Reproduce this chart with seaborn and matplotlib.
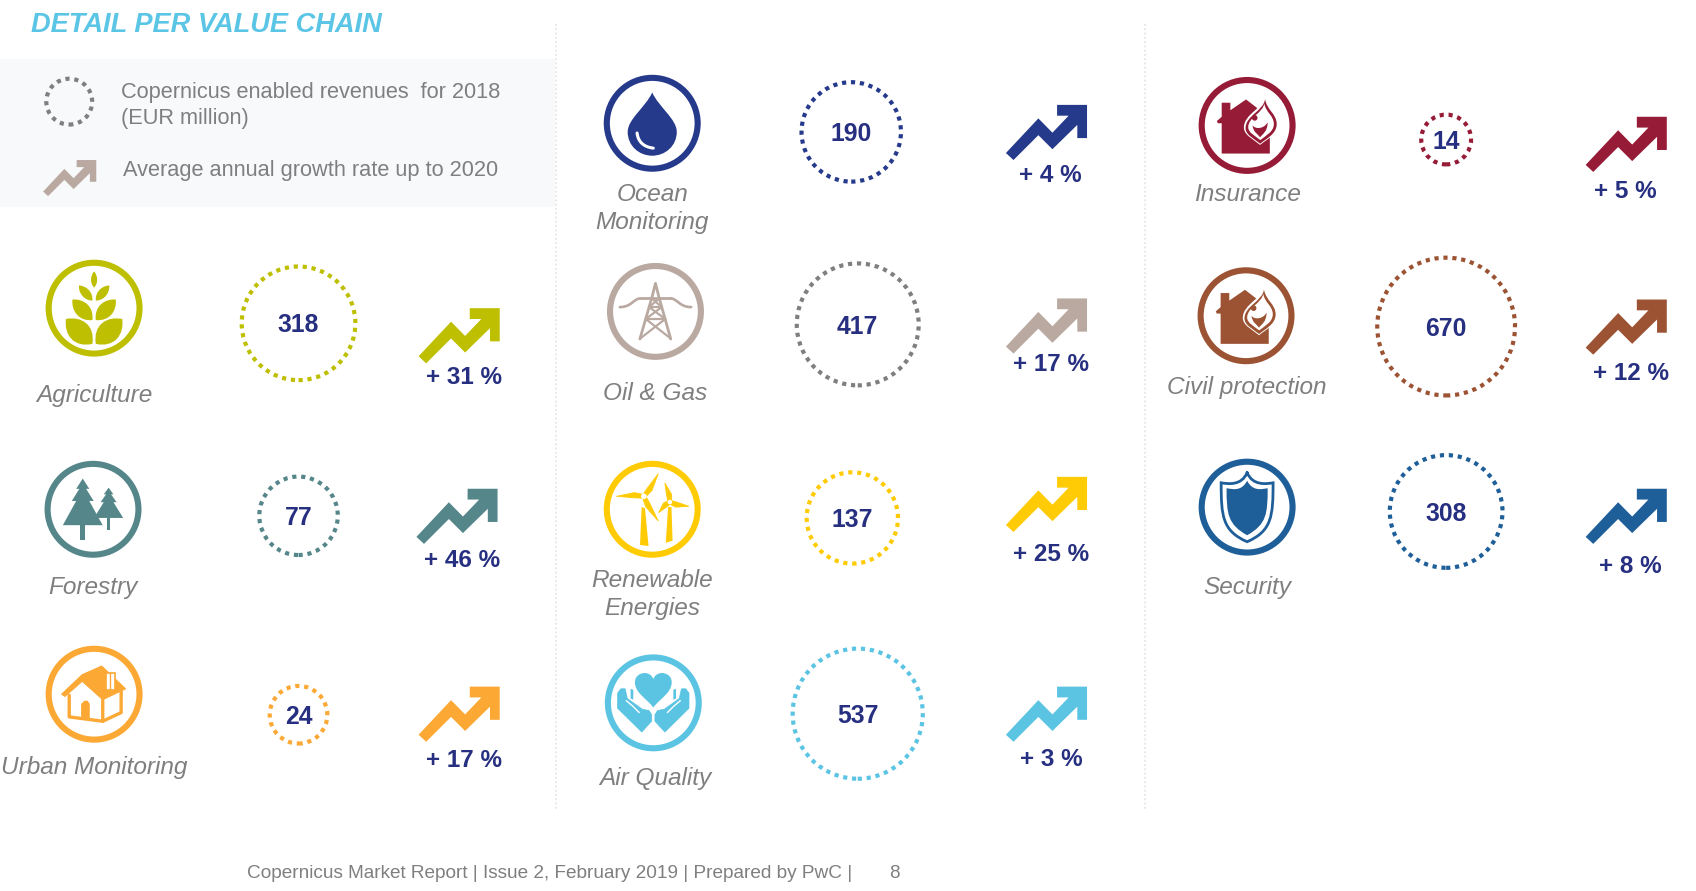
import matplotlib
matplotlib.use("Agg")
import matplotlib.pyplot as plt
import numpy as np
import pandas as pd
import seaborn as sns
from matplotlib.patches import Circle, PathPatch, Polygon, Rectangle
from matplotlib.path import Path

# the chart values
chains = ["Agriculture", "Forestry", "Urban Monitoring", "Ocean Monitoring", "Oil & Gas",
          "Renewable Energies", "Air Quality", "Insurance", "Civil protection", "Security"]
revenues = [318, 77, 24, 190, 417, 137, 537, 14, 670, 308]
growth = [31, 46, 17, 4, 17, 25, 3, 5, 12, 8]
label_lines = ["Agriculture", "Forestry", "Urban Monitoring", "Ocean\nMonitoring", "Oil & Gas",
               "Renewable\nEnergies", "Air Quality", "Insurance", "Civil protection", "Security"]

# colours
main_colors = ["#BDBF00", "#55868A", "#FBA834", "#263A8C", "#B9A9A1",
               "#FFCB05", "#5BC4E2", "#951B36", "#9C5333", "#1F5F99"]
ring_colors = ["#BDBF00", "#55868A", "#FBA834", "#263A8C", "#7F7F7F",
               "#FFCB05", "#5BC4E2", "#951B36", "#9C5333", "#1F5F99"]
navy = "#262F80"
grey = "#7F7F7F"

# layout, in units of the 1568x824 page
icon_x = [87, 86, 87, 603, 606, 603, 604, 1153, 1152, 1153]
icon_y = [285, 471, 642, 114, 288, 471, 650, 116, 292, 469]
name_x = [87, 86, 87, 603, 606, 603, 606, 1153, 1153, 1153]
name_y = [366, 543, 710, 193, 364, 550, 720, 180, 358, 543]
ring_x = [276, 276, 276, 787, 793, 788, 793, 1337, 1337, 1337]
ring_y = [299, 477, 661, 122, 300, 479, 660, 129, 302, 473]
value_y = [301, 479, 663, 124, 302, 481, 662, 131, 304, 475]
arrow_x = [462, 460, 462, 1005, 1005, 1005, 1005, 1541, 1541, 1541]
arrow_y = [285, 452, 635, 97, 276, 441, 635, 108, 277, 452]
pct_x = [429, 427, 429, 971, 972, 972, 972, 1503, 1508, 1507]
pct_y = [349, 518, 703, 162, 337, 513, 702, 177, 345, 524]

# the zigzag arrow, measured from its top right corner
ARROW = [(-75, 44.5), (-45, 12.5), (-32, 25.7), (-17, 10), (-27.7, 10), (-27.7, 0), (0, 0),
         (0, 30.7), (-9, 30.7), (-9, 18.5), (-32, 41), (-45, 28), (-68, 51)]

M, L, C, Z = Path.MOVETO, Path.LINETO, Path.CURVE4, Path.CLOSEPOLY


def ring_size(value):
    # ring diameter in the report grows with the fourth root of the value
    return (27.9 * value ** 0.25 * 0.72 - 3.0) ** 2


def draw_arrow(ax, x, y, color, scale=1.0):
    pts = [(x + scale * a, y + scale * b) for a, b in ARROW]
    ax.add_patch(Polygon(pts, closed=True, fc=color, ec="none"))


def blob(ax, cx, cy, pts, color, mirror=False, lw=0, ec="none"):
    pts = np.asarray(pts, dtype=float)
    ax.add_patch(Polygon(np.c_[cx + (-pts[:, 0] if mirror else pts[:, 0]), cy + pts[:, 1]],
                         closed=True, fc=color, ec=ec, lw=lw, joinstyle="round"))


def bez(ax, cx, cy, verts, codes, color, lw=0, ec="none", fill=True):
    v = np.asarray(verts, dtype=float) + [cx, cy]
    ax.add_patch(PathPatch(Path(v, codes), fc=color if fill else "none", ec=ec, lw=lw, capstyle="round"))


def leaf(ax, cx, cy, base, tip, w, color):
    bx, by = base
    tx, ty = tip
    dx, dy = tx - bx, ty - by
    nx, ny = -dy * w, dx * w
    verts = [base, (bx + .3 * dx + nx, by + .3 * dy + ny), (bx + .75 * dx + nx * .8, by + .75 * dy + ny * .8), tip,
             (bx + .75 * dx - nx * .8, by + .75 * dy - ny * .8), (bx + .3 * dx - nx, by + .3 * dy - ny), base]
    bez(ax, cx, cy, verts, [M, C, C, C, C, C, C], color)


def line(ax, cx, cy, pts, color, lw=2.0):
    pts = np.asarray(pts, dtype=float)
    ax.plot(cx + pts[:, 0], cy + pts[:, 1], color=color, lw=lw, solid_capstyle="round", solid_joinstyle="round")


def icon_agriculture(ax, x, y, c):
    leaf(ax, x, y, (0, -19), (0, -34), .28, c)
    for s in (-1, 1):
        leaf(ax, x, y, (s * 1.6, -7), (s * 14, -21), .32, c)
        leaf(ax, x, y, (s * 1.6, 11), (s * 20, -8), .38, c)
        leaf(ax, x, y, (s * 1.6, 33), (s * 26, 10), .44, c)


def icon_drop(ax, x, y, c):
    verts = [(0, -28.5), (-6, -15), (-22.7, -4), (-22.7, 8), (-22.7, 21), (-12, 30), (0, 30),
             (12, 30), (22.7, 21), (22.7, 8), (22.7, -4), (6, -15), (0, -28.5)]
    bez(ax, x, y, verts, [M] + [C] * 12, c)
    bez(ax, x, y, [(-14, 9), (-13, 18), (-7, 22), (1, 23)], [M, C, C, C], "none", lw=2.2, ec="white", fill=False)


def icon_pylon(ax, x, y, c):
    line(ax, x, y, [(-14.4, 25.5), (-3, -14), (0, -26), (3, -14), (14.1, 25.5)], c)
    line(ax, x, y, [(-14, -12), (14, -12)], c)
    for a, b in [((-5.8, -4), (5.8, -4)), ((-9, 7), (9, 7)), ((-3.5, -12), (5.8, -4)), ((3.5, -12), (-5.8, -4)),
                 ((-5.8, -4), (9, 7)), ((5.8, -4), (-9, 7)), ((-9, 7), (14, 25)), ((9, 7), (-14, 25))]:
        line(ax, x, y, [a, b], c, lw=1.6)
    for s in (-1, 1):
        bez(ax, x, y, [(s * 14, -12), (s * 20, -12), (s * 22, -4), (s * 33, -4)], [M, C, C, C],
            "none", lw=1.9, ec=c, fill=False)


def blade(ax, x, y, hub, tip, c):
    hub, tip = np.array(hub), np.array(tip)
    d = tip - hub
    n = np.array([-d[1], d[0]]) / np.hypot(*d) * 3.4
    blob(ax, x, y, [hub + n * .5, hub + .35 * d + n, tip, hub + .35 * d - n * .4, hub - n * .5], c, lw=.6, ec=c)


def icon_turbines(ax, x, y, c):
    for hub, tips, r in [((-7.7, -12), [(5.5, -32.8), (-33, -12), (5.5, 10.7)], 2.6),
                         ((16.3, -6.7), [(11.7, -24.2), (33.8, -2.8), (6, 3)], 2.1)]:
        for t in tips:
            blade(ax, x, y, hub, t, c)
        ax.add_patch(Circle((x + hub[0], y + hub[1]), r, fc="white", ec="none"))
    blob(ax, x, y, [(-9.8, -2.1), (-6.7, -1), (-3.4, 34), (-11.3, 33)], c)
    blob(ax, x, y, [(14.7, -2.1), (17.8, -2.1), (18.8, 29), (12.5, 31)], c)


def icon_hands(ax, x, y, c):
    verts = [(0, 4.3), (-6, -4), (-17, -9), (-17, -19), (-17, -25), (-12, -27.6), (-8, -27.6),
             (-4, -27.6), (-1, -25), (0, -22), (1, -25), (4, -27.6), (8, -27.6),
             (12, -27.6), (17, -25), (17, -19), (17, -9), (6, -4), (0, 4.3)]
    bez(ax, x, y, verts, [M] + [C] * 18, c)
    for mirror in (False, True):
        blob(ax, x, y, [(-33, -9), (-30, -13), (-26, -13), (-24, -4), (-17, 1), (-10, 6), (-4, 7), (-1.5, 11),
                        (-1.5, 17), (-10.7, 27), (-33, 5)], c, mirror=mirror, lw=.5, ec=c)
        blob(ax, x, y, [(-21, -13), (-18.5, -12), (-18.5, -3), (-21, -4)], c, mirror=mirror)
        s = 1 if mirror else -1
        line(ax, x, y, [(s * 25, -2), (s * 19, 3), (s * 13, 9)], "white", lw=1.0)


def icon_trees(ax, x, y, c):
    for tx, top, base, hw, trunk, tw in [(-9.5, -28.4, 14.7, 18.4, 28, 2.4), (14.4, -20, 8, 13.5, 18.7, 1.7)]:
        h = base - top
        pts = [(0, 0), (.33, .22), (.17, .22), (.55, .48), (.33, .48), (1, 1)]
        right = [(tx + hw * a, top + h * b) for a, b in pts]
        left = [(tx - hw * a, top + h * b) for a, b in pts[::-1]]
        blob(ax, x, y, right + left, c)
        blob(ax, x, y, [(tx - tw, base), (tx + tw, base), (tx + tw, trunk), (tx - tw, trunk)], c)


def icon_house(ax, x, y, c):
    blob(ax, x, y, [(-30, 0), (-11, -18), (7, -26), (29, -5), (8, 5), (-11, -12), (-27, 2)], c, lw=.8, ec=c)
    line(ax, x, y, [(-23, 1), (-23, 21), (8, 25), (8, 5)], c, lw=2.4)
    line(ax, x, y, [(8, 25), (25, 17), (25, -3)], c, lw=2.4)
    blob(ax, x, y, [(-12, 23), (-12, 9), (-9, 6), (-6, 6), (-4, 9), (-4, 23)], c)
    ax.add_patch(Rectangle((x + 11, y - 20), 8, 16, fc="white", ec=c, lw=1.2))
    line(ax, x, y, [(15, -20), (15, -4)], c, lw=1.0)


def icon_flame_house(ax, x, y, c):
    blob(ax, x, y, [(-28, -4), (-23.5, -8), (-23.5, -21), (-15.5, -21), (-15.5, -14), (-1, -24), (12, -14), (21, 8),
                    (21, 26), (-23.5, 26), (-23.5, -2), (-27, -2)], c)
    flame = np.array([(17, -27), (16, -15), (-3, -10), (-3, 3), (-3, 10), (6, 14), (12, 19),
                      (18, 14), (29, 9), (29, -1), (29, -12), (19, -15), (17, -27)], dtype=float)
    mid = np.array([12.5, -2.0])
    codes = [M] + [C] * 12
    bez(ax, x, y, flame + [0, -1], codes, "white")
    bez(ax, x, y, mid + (flame - mid) * .9, codes, c)
    bez(ax, x, y, mid + (flame - mid) * .74, codes, "white")
    bez(ax, x, y, [(5, 0), (6, 7), (10, 8), (12, 11), (14, 8), (19, 6), (19, -3), (16, 3), (8, 4), (5, 0)],
        [M] + [C] * 9, c)
    ax.add_patch(Circle((x + 7, y - 7), 2.6, fc=c, ec="none"))


def icon_shield(ax, x, y, c):
    def shield(top, cx, cy, bottom, mid):
        return [(0, top), (-5, cy + 3), (-cx + 6, cy + 1), (-cx, cy), (-cx, mid), (-cx + 1, bottom - 10), (0, bottom),
                (cx - 1, bottom - 10), (cx, mid), (cx, cy), (cx - 6, cy + 1), (5, cy + 3), (0, top)]
    codes = [M] + [C] * 12
    bez(ax, x, y, shield(-32, 24, -22.5, 32, 8), codes, "none", lw=2.0, ec=c, fill=False)
    bez(ax, x, y, shield(-24.5, 19, -17.5, 26, 6), codes, c)


ICONS = [icon_agriculture, icon_trees, icon_house, icon_drop, icon_pylon,
         icon_turbines, icon_hands, icon_flame_house, icon_flame_house, icon_shield]

sns.set_theme(style="white")
plt.rcParams["font.family"] = ["Liberation Sans", "DejaVu Sans"]

fig = plt.figure(figsize=(16.96, 8.91), dpi=100)
ax = fig.add_axes([0, 0, 1, 1])
ax.set_xlim(0, 1568)
ax.set_ylim(824, 0)
ax.axis("off")

# page furniture
ax.add_patch(Rectangle((0, 55), 513, 136, fc="#F8F9FB", ec="none", zorder=0))
for x in [514, 1059]:
    ax.plot([x, x], [22, 750], color="#E9E9E9", lw=1.4, ls=(0, (1, 1.2)), zorder=0)

ax.text(29, 23, "DETAIL PER VALUE CHAIN", color="#5BC5E5", fontsize=19.6, fontweight="bold",
        fontstyle="italic", va="center", ha="left")
ax.text(112, 86, "Copernicus enabled revenues  for 2018", color=grey, fontsize=15.65, va="center")
ax.text(112, 110, "(EUR million)", color=grey, fontsize=15.65, va="center")
ax.text(114, 158, "Average annual growth rate up to 2020", color=grey, fontsize=15.65, va="center")
draw_arrow(ax, 89, 148, "#B9A9A1", scale=0.655)

# revenue rings are one seaborn scatter, sized and coloured by chain
df = pd.DataFrame({"chain": chains, "revenue": revenues, "x": ring_x, "y": ring_y})
sns.scatterplot(data=df, x="x", y="y", hue="chain", palette=dict(zip(chains, ring_colors)),
                size="revenue", sizes={v: ring_size(v) for v in revenues}, marker="o",
                linewidth=3.0, legend=False, ax=ax)
rings = ax.collections[-1]
rings.set_edgecolors(rings.get_facecolors())
rings.set_facecolors("none")
rings.set_linestyle((0, (1, 1.15)))

# legend ring
sns.scatterplot(x=[64], y=[94], s=(50 * 0.72 - 3.0) ** 2, marker="o", linewidth=3.0, color=grey, legend=False, ax=ax)
key = ax.collections[-1]
key.set_edgecolors(key.get_facecolors())
key.set_facecolors("none")
key.set_linestyle((0, (1, 1.15)))
ax.set_xlabel("")
ax.set_ylabel("")
ax.set_xlim(0, 1568)
ax.set_ylim(824, 0)

for i, chain in enumerate(chains):
    c = main_colors[i]
    ax.add_patch(Circle((icon_x[i], icon_y[i]), 42, fc="white", ec=c, lw=4.4))
    ICONS[i](ax, icon_x[i], icon_y[i], c)
    ax.text(name_x[i], name_y[i], label_lines[i], color=grey, fontsize=17.6, fontstyle="italic",
            ha="center", va="center", linespacing=1.25)
    ax.text(ring_x[i], value_y[i], str(revenues[i]), color=navy, fontsize=17.8, fontweight="bold",
            ha="center", va="center")
    draw_arrow(ax, arrow_x[i], arrow_y[i], c)
    ax.text(pct_x[i], pct_y[i], f"+ {growth[i]} %", color=navy, fontsize=17.5, fontweight="bold",
            ha="center", va="center")

ax.text(228, 808, "Copernicus Market Report | Issue 2, February 2019 | Prepared by PwC |", color=grey,
        fontsize=13.66, va="center")
ax.text(822, 808, "8", color=grey, fontsize=13.66, va="center")

fig.savefig("out.png", dpi=100)
